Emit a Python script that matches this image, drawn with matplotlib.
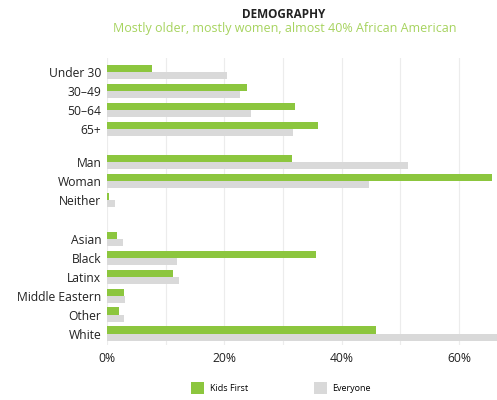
import matplotlib
matplotlib.use("Agg")
from matplotlib import pyplot as plt
from matplotlib.patches import Patch
import numpy as np

plt.rcParams['font.family'] = ['Open Sans', 'DejaVu Sans']

categories = ['Under 30', '30\u201349', '50\u201364', '65+',
              'Man', 'Woman', 'Neither',
              'Asian', 'Black', 'Latinx', 'Middle Eastern', 'Other', 'White']
groups = [0, 0, 0, 0, 1, 1, 1, 2, 2, 2, 2, 2, 2]
kids_first = [7.7, 23.8, 32.0, 36.0, 31.5, 65.6, 0.3, 1.7, 35.6, 11.3, 2.9, 2.1, 45.8]
everyone = [20.4, 22.7, 24.5, 31.8, 51.4, 44.6, 1.4, 2.7, 11.9, 12.3, 3.0, 2.9, 66.5]
xticks = [0, 20, 40, 60]
xtick_labels = ['0%', '20%', '40%', '60%']

green = '#8cc63e'
grey = '#d9d9d9'

# y positions with gaps between groups
gap = [0, 0.75, 1.8]
y = np.arange(len(categories)) + np.array([gap[g] for g in groups])

fig = plt.figure(figsize=(4.97, 4.0), dpi=100)
ax = fig.add_axes([107 / 497, 55 / 400, 1 - 107 / 497, 287 / 400])

h = 0.38
ax.barh(y - h / 2, kids_first, height=h, color=green, zorder=3)
ax.barh(y + h / 2, everyone, height=h, color=grey, zorder=3)

ax.set_yticks(y)
ax.set_yticklabels(categories, fontsize=8.7, color='#222222')
ax.set_ylim(y[-1] + 0.6, -0.75)
ax.set_xlim(0, 66.5)
ax.set_xticks(np.arange(0, 70, 10), minor=True)
ax.set_xticks(xticks)
ax.set_xticklabels(xtick_labels, fontsize=8.7, color='#222222')
ax.grid(axis='x', which='both', color='#ececec', linewidth=0.8, zorder=0)
ax.tick_params(which='both', length=0, pad=5)
ax.tick_params(axis='y', pad=4)
for s in ax.spines.values():
    s.set_visible(False)

fig.text(0.57, 0.963, 'DEMOGRAPHY', ha='center', va='center',
         fontsize=8.5, fontweight='bold', color='#222222')
fig.text(0.572, 0.928, 'Mostly older, mostly women, almost 40% African American',
         ha='center', va='center', fontsize=9, color='#a6d35e')

handles = [Patch(facecolor=green, label='Kids First'),
           Patch(facecolor=grey, label='Everyone')]
fig.legend(handles=handles, loc='center', bbox_to_anchor=(0.565, 0.03), ncol=2,
           frameon=False, fontsize=6.5, handlelength=1.5, handleheight=1.5,
           columnspacing=7.3, handletextpad=0.6)

fig.savefig('out.png', dpi=100)
